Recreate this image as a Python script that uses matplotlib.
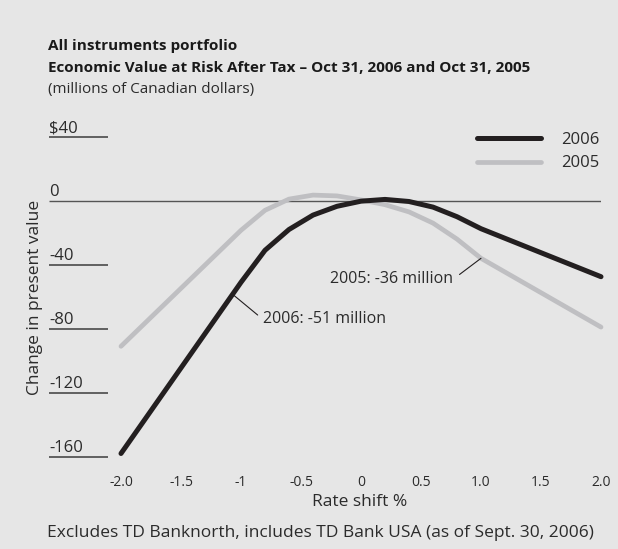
import numpy as np
import matplotlib.pyplot as plt

plt.rcParams['font.family'] = ['Open Sans', 'DejaVu Sans']

# Rate shift (%) and change in present value ($ millions)
rate_shift = [-2.0, -1.0, -0.8, -0.6, -0.4, -0.2, 0.0, 0.2, 0.4, 0.6, 0.8, 1.0, 2.0]
value_2006 = [-158, -51, -31, -18, -9, -3.5, -0.3, 0.8, -0.5, -4, -10, -17.5, -47.5]
value_2005 = [-91, -18.5, -6, 1, 3.5, 3, 0.5, -2.5, -7, -14, -24, -36, -79]

x_ticks = [-2.0, -1.5, -1.0, -0.5, 0.0, 0.5, 1.0, 1.5, 2.0]
x_labels = ['-2.0', '-1.5', '-1', '-0.5', '0', '0.5', '1.0', '1.5', '2.0']
y_ticks = [40, 0, -40, -80, -120, -160]
y_labels = ['$40', '0', '-40', '-80', '-120', '-160']

BG = '#e6e6e6'
BLACK = '#231f20'
GREY = '#bfbfc2'
TXT = '#2b2b2b'

W, H = 618, 549
fig = plt.figure(figsize=(W / 100, H / 100), dpi=100, facecolor=BG)


def fx(px):
    return px / W


def fy(py):
    return 1 - py / H


ax = fig.add_axes([fx(49), fy(469.5), fx(601) - fx(49), fy(120.7) - fy(469.5)])
ax.set_facecolor(BG)
ax.set_xlim(-2.6, 2.0)
ax.set_ylim(-168, 50)
for s in ax.spines.values():
    s.set_visible(False)
ax.set_yticks([])
ax.set_xticks(x_ticks, x_labels)
ax.tick_params(axis='x', length=0, pad=4, labelsize=10, labelcolor=TXT)

# short rules under each value label, the zero rule runs across the chart
for v, lab in zip(y_ticks, y_labels):
    x_end = 2.0 if v == 0 else -2.11
    ax.plot([-2.6, x_end], [v, v], color='#555555', lw=1.0 if v == 0 else 1.3,
            solid_capstyle='butt', zorder=1)
    ax.annotate(lab, (-2.6, v), xytext=(0, 0.5), textcoords='offset points',
                ha='left', va='bottom', fontsize=12, color=TXT)

ax.plot(rate_shift, value_2005, color=GREY, lw=3.4, solid_capstyle='round',
        solid_joinstyle='round', label='2005', zorder=2, clip_on=False)
ax.plot(rate_shift, value_2006, color=BLACK, lw=3.6, solid_capstyle='round',
        solid_joinstyle='round', label='2006', zorder=3, clip_on=False)

# callouts
x6 = -1.07
ax.annotate('2006: -51 million', xy=(x6, np.interp(x6, rate_shift, value_2006)),
            xytext=(-0.82, -74), ha='left', va='center', fontsize=11.5, color=TXT,
            arrowprops=dict(arrowstyle='-', color=BLACK, lw=0.8, shrinkA=2, shrinkB=0,
                            relpos=(0, 0.5)))
ax.annotate('2005: -36 million', xy=(1.0, value_2005[rate_shift.index(1.0)]),
            xytext=(0.77, -49), ha='right', va='center', fontsize=11.5, color=TXT,
            arrowprops=dict(arrowstyle='-', color=BLACK, lw=0.8, shrinkA=3, shrinkB=0,
                            relpos=(1, 0.5)))

handles, labels = ax.get_legend_handles_labels()
ax.legend(handles[::-1], labels[::-1], loc='upper right', frameon=False,
          bbox_to_anchor=(fx(614), fy(117)), bbox_transform=fig.transFigure,
          handlelength=3.8, handletextpad=1.2, labelspacing=0.45, fontsize=12,
          labelcolor=TXT)

fig.text(fx(48), fy(46), 'All instruments portfolio', fontsize=11, fontweight='bold',
         color='#1a1a1a', va='center')
fig.text(fx(48), fy(68), 'Economic Value at Risk After Tax \u2013 Oct 31, 2006 and Oct 31, 2005',
         fontsize=11, fontweight='bold', color='#1a1a1a', va='center')
fig.text(fx(48), fy(90), '(millions of Canadian dollars)', fontsize=11, color=TXT, va='center')

fig.text(fx(35), fy(297), 'Change in present value', rotation=90, fontsize=12.5,
         color=TXT, ha='center', va='center')
fig.text(fx(360), fy(502), 'Rate shift %', fontsize=12.5, color=TXT, ha='center', va='center')
fig.text(fx(320), fy(533), 'Excludes TD Banknorth, includes TD Bank USA (as of Sept. 30, 2006)',
         fontsize=12.5, color=TXT, ha='center', va='center')

fig.savefig('out.png', dpi=100, facecolor=BG)
